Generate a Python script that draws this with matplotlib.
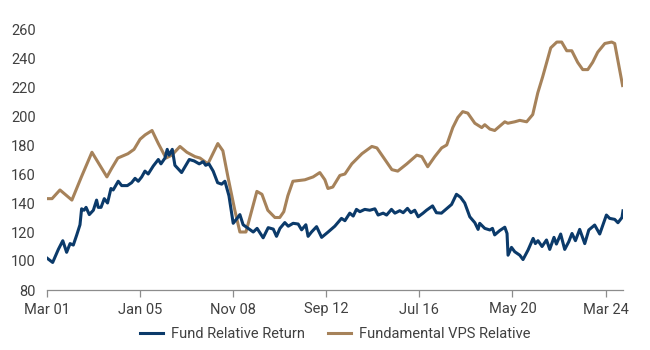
# Fund relative return vs fundamental VPS relative
import matplotlib
matplotlib.use("Agg")
import matplotlib.pyplot as plt

# x values are months since Mar 2001
tick_months = [0, 46, 92, 138, 184, 230, 276]
tick_labels = ["Mar 01", "Jan 05", "Nov 08", "Sep 12", "Jul 16", "May 20", "Mar 24"]

fund_months = [0, 2.8, 5.6, 7.8, 9.7, 11.4, 13, 14.7, 16.3, 17.1, 18.3, 19.3, 20.9, 22.9,
               24.5, 25.3, 26.7, 28.3, 29.9, 31.6, 32.7, 35.2, 36.9, 39.7, 41.8, 43.5,
               45.1, 46.8, 48.4, 50, 52.5, 55, 56.3, 58.3, 59.4, 60.3, 61.9, 63.2, 66.5,
               70.3, 72.7, 75.2, 77.2, 78.4, 80, 82.1, 84.3, 86.3, 87.9, 89.9, 92, 93.7,
               95.3, 96.9, 99.4, 101.9, 103.8, 106.8, 109.3, 111.8, 113.4, 115.1, 117.5,
               119.2, 121.6, 124.1, 125.8, 127.9, 129, 130.7, 133.2, 135.7, 138.9, 142.2,
               145.5, 147.2, 149.6, 151.3, 152.9, 154.6, 157, 159.5, 162, 163.6, 166.1,
               167.8, 170.2, 171.9, 174.3, 176, 178.1, 179.8, 181.7, 183.4, 185.8, 187.5,
               190.5, 192.4, 194.9, 199.9, 202.3, 204.3, 206.4, 208.9, 211.4, 213, 213.8,
               216.3, 218.8, 220.1, 221.2, 223.7, 226.2, 227.3, 227.8, 229.5, 231.1, 233.6,
               235.2, 237.7, 240.2, 241.3, 242.6, 244.6, 246.8, 248.4, 250.5, 251.7, 253.8,
               255.8, 257.8, 259.4, 261.1, 263.2, 265.7, 267.7, 270.6, 273.1, 276.4, 278,
               280.5, 282.1, 284.1, 284.6]
fund_values = [102, 99, 108, 114, 106, 112, 111, 118, 125, 136, 135, 137, 132, 135,
               142, 137, 137, 143, 140, 150, 149, 155, 152, 152, 154, 157,
               155, 158, 162, 160, 165.5, 170, 167, 171, 177, 173, 177, 166, 161,
               170, 169, 167, 168.5, 166, 167, 162, 154, 153, 155, 145, 126, 129,
               132, 125, 122.5, 120, 122.5, 116, 123, 122, 117, 122.5, 126.5,
               124, 126, 125.5, 121.5, 125, 117, 120, 123.7, 116.3, 120, 124,
               129.4, 127.8, 133, 131, 135.6, 134, 135.6, 135, 136, 131.7, 133,
               131.7, 135.6, 133, 134.7, 133.3, 136.3, 133.3, 135, 130.5, 133, 135,
               138, 133.3, 133, 139, 146, 144, 140, 130.5, 126.4, 121.8, 126,
               122.5, 121.4, 122.5, 118, 121, 123.3, 119, 104, 109.4, 106.4, 104,
               101, 107.6, 115.6, 112, 114, 110, 114.5, 108, 116.3, 111.7, 118.6,
               108, 113.3, 119, 114, 121.8, 112, 121.4, 124.8, 118.6, 131.7, 129.4,
               128.7, 126.4, 130, 134.6]

vps_months = [0, 2.5, 6.4, 12.3, 17, 22.2, 29.6, 32, 35, 40, 43, 46, 48.5, 51.9,
              55, 58.8, 61.7, 65.7, 69.1, 73.1, 75.6, 79.5, 84.4, 86.9, 89.4, 92.8,
              95.3, 98.3, 103.7, 106.2, 109.1, 112.6, 115, 117, 119, 121.5, 127.4,
              131.5, 134.8, 137.3, 138.8, 141.2, 144.7, 147.2, 150.6, 155.6, 160.5,
              163, 170.4, 173.3, 177.8, 182.7, 185.2, 188.1, 191.6, 195, 197.5, 200.5,
              203, 205.4, 207.9, 211.4, 214.8, 216.3, 218.8, 221.2, 226.2, 227.7,
              231.1, 233.6, 237, 240, 242.5, 244.9, 248.9, 251.9, 254.3, 256.8, 259.3,
              262.2, 264.7, 267.2, 269.6, 272.1, 275.6, 279, 280.5, 284.4]
vps_values = [143, 143, 149, 142, 158, 175, 158, 164, 171, 174, 177, 184, 187, 190,
              181, 171, 173, 179, 175, 172, 171, 167, 181, 176, 158, 135,
              120, 120, 148, 146, 135, 130, 130, 134, 145, 155, 156,
              158, 161, 156, 150, 151, 159, 160, 167, 174, 179,
              178, 163, 162, 167, 173, 172, 165, 172, 178, 180, 192,
              199, 203, 202, 195, 192, 194, 191, 190, 196, 195,
              196, 197, 196, 201, 216, 227, 247, 251, 251, 245, 245,
              237, 232, 232, 237, 244, 250, 251, 250, 221]

navy = "#0b3a6a"
tan = "#a6825a"
textcol = "#404040"

plt.rcParams["font.family"] = ["Roboto", "DejaVu Sans"]

fig = plt.figure(figsize=(6.5, 3.5), dpi=100)
ax = fig.add_axes([47 / 650, 1 - 290 / 350, 576 / 650, 261 / 350])

l1, = ax.plot(fund_months, fund_values, color=navy, lw=2.2, solid_joinstyle="round",
              label="Fund Relative Return", zorder=3)
l2, = ax.plot(vps_months, vps_values, color=tan, lw=2.2, solid_joinstyle="round",
              label="Fundamental VPS Relative", zorder=2)

ax.set_xlim(0, 284.6)
ax.set_ylim(80, 260)
ax.set_yticks(range(80, 261, 20))
ax.set_xticks(tick_months)
ax.set_xticklabels(tick_labels)

for s in ["top", "right", "left"]:
    ax.spines[s].set_visible(False)
ax.spines["bottom"].set_color("#8c8c8c")
ax.spines["bottom"].set_linewidth(0.9)
ax.tick_params(axis="y", length=0, pad=8, labelsize=10.5, labelcolor=textcol)
ax.tick_params(axis="x", length=5, width=0.9, color="#8c8c8c", pad=4,
               labelsize=10.5, labelcolor=textcol)

leg = ax.legend(handles=[l1, l2], loc="upper center", bbox_to_anchor=(0.5, -0.09),
                ncol=2, frameon=False, fontsize=10.5, handlelength=1.6,
                handletextpad=0.5, columnspacing=1.6)
for t in leg.get_texts():
    t.set_color(textcol)

fig.savefig("out.png", dpi=100)
